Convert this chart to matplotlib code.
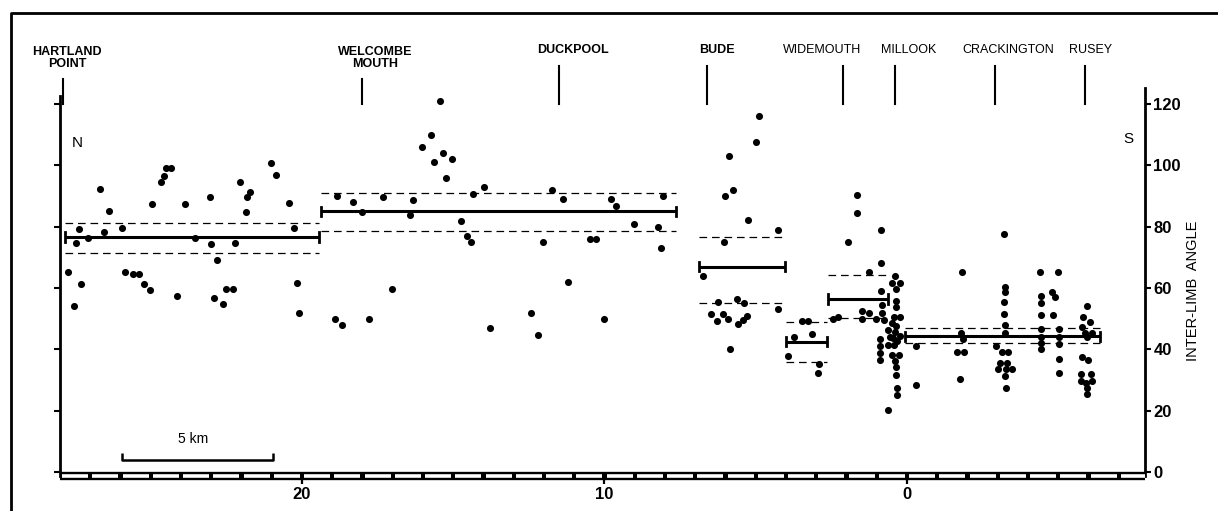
import matplotlib
matplotlib.use("Agg")
import matplotlib.pyplot as plt
from matplotlib.lines import Line2D

plt.rcParams['font.family'] = ['Liberation Sans', 'DejaVu Sans']
plt.rcParams['lines.scale_dashes'] = False

# localities along the coast (distance in km, N -> S)
places = ['HARTLAND\nPOINT', 'WELCOMBE\nMOUTH', 'DUCKPOOL', 'BUDE',
          'WIDEMOUTH', 'MILLOOK', 'CRACKINGTON', 'RUSEY']
place_km = [27.9, 18.0, 11.5, 6.6, 2.1, 0.4, -2.9, -5.9]
label_km = [27.77, 17.59, 11.04, 6.29, 2.81, -0.05, -3.34, -6.08]
place_bold = [True, True, True, True, False, False, False, False]

# mean inter-limb angle per stretch with confidence limits
seg_start = [27.83, 19.37, 6.86, 4.01, 2.60, 0.07]
seg_end = [19.45, 7.65, 4.04, 2.63, 0.64, -6.38]
seg_mean = [76.6, 85.0, 66.9, 42.5, 56.4, 44.3]
seg_upper = [81.2, 91.0, 76.6, 49.0, 64.2, 47.1]
seg_lower = [71.5, 78.6, 55.2, 36.0, 50.1, 42.1]

# measured folds: Hartland - Welcombe
km1 = [27.75, 27.53, 27.47, 27.37, 27.30, 27.07, 26.69, 26.56, 26.37, 25.96,
       25.84, 25.60, 25.40, 25.23, 25.02, 24.97, 24.67, 24.57, 24.50, 24.32,
       24.13, 23.88, 23.54, 23.05, 23.01, 22.92, 22.81, 22.61, 22.51, 22.28,
       22.21, 22.05, 21.86, 21.83, 21.72, 21.01, 20.87, 20.43, 20.25, 20.17, 20.10]
ang1 = [65.3, 54.2, 74.6, 79.1, 61.3, 76.4, 92.3, 78.3, 85.2, 79.5,
        65.3, 64.5, 64.5, 61.3, 59.2, 87.4, 94.5, 96.5, 99.2, 99.2,
        57.4, 87.4, 76.4, 89.6, 74.3, 56.6, 69.2, 54.8, 59.6, 59.6,
        74.6, 94.7, 84.9, 89.6, 91.4, 100.8, 96.8, 87.8, 79.7, 61.5, 51.7]

# Welcombe - Duckpool - Bude
km2 = [18.90, 18.85, 18.68, 18.32, 18.02, 17.79, 17.31, 17.01, 16.43, 16.32,
       16.04, 15.74, 15.64, 15.45, 15.33, 15.23, 15.03, 14.74, 14.54, 14.41,
       14.34, 13.97, 13.79, 12.42, 12.21, 12.04, 11.75, 11.36, 11.22, 10.49,
       10.27, 10.01, 9.78, 9.62, 9.03, 8.22, 8.12, 8.08]
ang2 = [49.8, 89.9, 48.0, 87.9, 84.9, 49.8, 89.8, 59.7, 83.9, 88.7,
        105.9, 109.9, 101.0, 120.9, 103.9, 96.0, 102.0, 81.7, 76.9, 75.1,
        90.6, 93.0, 47.0, 51.8, 44.7, 74.9, 91.9, 88.9, 61.9, 76.0,
        76.0, 49.8, 89.1, 86.8, 81.0, 80.0, 73.0, 90.1]

# Bude
km3 = [6.73, 6.47, 6.29, 6.26, 6.09, 6.06, 6.03, 5.91, 5.88, 5.85, 5.76,
       5.63, 5.60, 5.43, 5.40, 5.30, 5.26, 5.00, 4.89, 4.27, 4.27]
ang3 = [64.0, 51.5, 49.3, 55.3, 51.5, 75.1, 90.1, 50.0, 103.0, 40.0, 92.0,
        56.3, 48.2, 49.6, 55.2, 51.0, 82.2, 107.7, 116.2, 79.0, 53.1]

# Widemouth
km4 = [3.93, 3.73, 3.48, 3.26, 3.15, 2.93, 2.91]
ang4 = [37.9, 44.0, 49.2, 49.2, 45.0, 32.4, 35.2]

# Millook
km5 = [1.66, 1.66, 1.94, 0.87, 0.87, 1.26, 0.40, 0.49, 0.23, 0.36,
       0.86, 0.36, 0.82, 0.36, 0.82, 1.49, 1.26, 2.27, 2.44, 1.47,
       1.02, 0.75, 0.44, 0.23, 0.51, 0.36, 0.62, 0.40, 0.23, 0.56,
       0.45, 0.89, 0.34, 0.62, 0.43, 0.89, 0.89, 0.51, 0.26, 0.89,
       0.40, 0.36, 0.36, 0.33, 0.33, 0.64, -0.29, -0.29]
ang5 = [90.3, 84.3, 75.1, 78.9, 68.0, 65.3, 64.0, 61.7, 61.7, 59.7,
        59.1, 55.9, 54.5, 53.7, 51.9, 52.6, 51.9, 50.6, 50.0, 50.0,
        50.0, 49.6, 50.4, 50.4, 48.5, 47.7, 46.3, 45.7, 44.3, 44.1,
        43.6, 43.3, 42.8, 41.4, 41.4, 41.1, 38.7, 38.1, 38.1, 36.5,
        36.3, 34.1, 31.6, 27.5, 25.1, 20.2, 41.1, 28.4]

# Crackington - Rusey
km6 = [-1.83, -1.79, -1.86, -1.64, -1.89, -1.75,
       -3.22, -3.24, -3.24, -3.22, -3.22, -3.24, -3.24, -2.93, -3.13, -3.35,
       -3.07, -3.30, -3.02, -3.26, -3.46, -3.24, -3.26,
       -4.41, -4.43, -4.43, -4.43, -4.43, -4.43, -4.43, -4.43,
       -5.00, -4.80, -4.89, -4.84, -5.03, -5.03, -5.03, -5.03, -5.03,
       -5.94, -5.83, -6.05, -5.78, -5.88, -6.11, -5.94, -5.78, -5.97, -5.75,
       -6.08, -5.75, -6.11, -5.92, -5.94, -5.94]
ang6 = [65.3, 45.2, 43.3, 39.2, 39.2, 30.4,
        77.6, 60.4, 58.8, 55.3, 51.5, 47.9, 45.4, 41.1, 39.2, 39.2,
        35.4, 35.4, 33.5, 33.5, 33.5, 31.3, 27.3,
        65.3, 57.4, 55.0, 51.2, 46.5, 44.1, 42.0, 40.0,
        65.3, 58.8, 57.0, 51.2, 46.5, 44.1, 41.7, 36.7, 32.4,
        54.1, 50.6, 49.0, 47.4, 45.4, 45.4, 43.9, 37.6, 36.5, 32.0,
        32.0, 29.8, 29.8, 28.9, 27.3, 25.4]

xmin, xmax = 28.0, -7.87
ybot, ytop = -1.3, 125.2

fig = plt.figure(figsize=(12.18, 5.11), dpi=100)
ax = fig.add_axes([60 / 1218, 1 - 476 / 511, 1085 / 1218, (476 - 88) / 511])
ax.set_xlim(xmin, xmax)
ax.set_ylim(ybot, ytop)

# spines
ax.spines['top'].set_visible(False)
ax.spines['bottom'].set_visible(False)
ax.spines['left'].set_linewidth(2.0)
ax.spines['left'].set_bounds(ybot, 122.6)
ax.spines['right'].set_linewidth(2.0)

ax.set_yticks([0, 20, 40, 60, 80, 100, 120])
ax.tick_params(axis='y', left=True, right=True, labelleft=False, labelright=True,
               direction='out', length=4, width=1.5, pad=2, labelsize=12)
for t in ax.get_yticklabels():
    t.set_fontweight('bold')

ax.set_xticks([20, 10, 0])
ax.tick_params(axis='x', direction='out', length=6, width=1.6, pad=2, labelsize=12)
for t in ax.get_xticklabels():
    t.set_fontweight('bold')

# distance bar along the bottom (1 km divisions)
ax.plot([xmin, xmax], [ybot, ybot], color='k', lw=6.0, solid_capstyle='butt',
        clip_on=False, zorder=4)
for k in range(-8, 28):
    a = min(k + 0.93, xmin)
    b = max(k + 0.07, xmax)
    if a > b:
        ax.plot([a, b], [ybot, ybot], color='white', lw=2.6,
                solid_capstyle='butt', clip_on=False, zorder=5)

# means and confidence limits
for s, e, m, u, l in zip(seg_start, seg_end, seg_mean, seg_upper, seg_lower):
    ax.plot([s, e], [m, m], color='k', lw=2.2, solid_capstyle='butt', zorder=2)
    ax.plot([s, s], [m - 1.5, m + 1.5], color='k', lw=2.0, zorder=2)
    ax.plot([e, e], [m - 1.5, m + 1.5], color='k', lw=2.0, zorder=2)
    ax.plot([s, e], [u, u], color='k', lw=0.9, dashes=(5.5, 3.5), zorder=2)
    ax.plot([s, e], [l, l], color='k', lw=0.9, dashes=(5.5, 3.5), zorder=2)

# data points
all_km = km1 + km2 + km3 + km4 + km5 + km6
all_ang = ang1 + ang2 + ang3 + ang4 + ang5 + ang6
ax.scatter(all_km, all_ang, s=26, c='k', linewidths=0, zorder=3)

# locality markers and names
for name, pk, lk, bold in zip(places, place_km, label_km, place_bold):
    two_line = '\n' in name
    top = 128.1 if two_line else 132.4
    ax.plot([pk, pk], [120.0, top], color='k', lw=1.5, clip_on=False)
    if two_line:
        ax.text(lk, 139.0, name, ha='center', va='top', fontsize=9,
                fontweight='bold', linespacing=1.05, clip_on=False)
    else:
        ax.text(lk, 137.6, name, ha='center', va='center', fontsize=9,
                fontweight='bold' if bold else 'normal', clip_on=False)

ax.text(27.44, 107.4, 'N', ha='center', va='center', fontsize=11)
ax.text(-7.33, 108.7, 'S', ha='center', va='center', fontsize=11)

# 5 km scale bar
ax.plot([25.96, 25.96, 20.95, 20.95], [6.2, 3.9, 3.9, 6.2], color='k', lw=1.8,
        solid_capstyle='butt')
ax.text(23.59, 10.8, '5 km', ha='center', va='center', fontsize=10)

fig.text(1193 / 1218, 1 - 291 / 511, 'INTER-LIMB  ANGLE', rotation=90,
         ha='center', va='center', fontsize=10.5)

# page frame
fig.add_artist(Line2D([11 / 1218, 11 / 1218, 1.0],
                      [0.0, 1 - 13.5 / 511, 1 - 13.5 / 511],
                      color='k', lw=2.0, transform=fig.transFigure))

fig.savefig('out.png', dpi=100)
